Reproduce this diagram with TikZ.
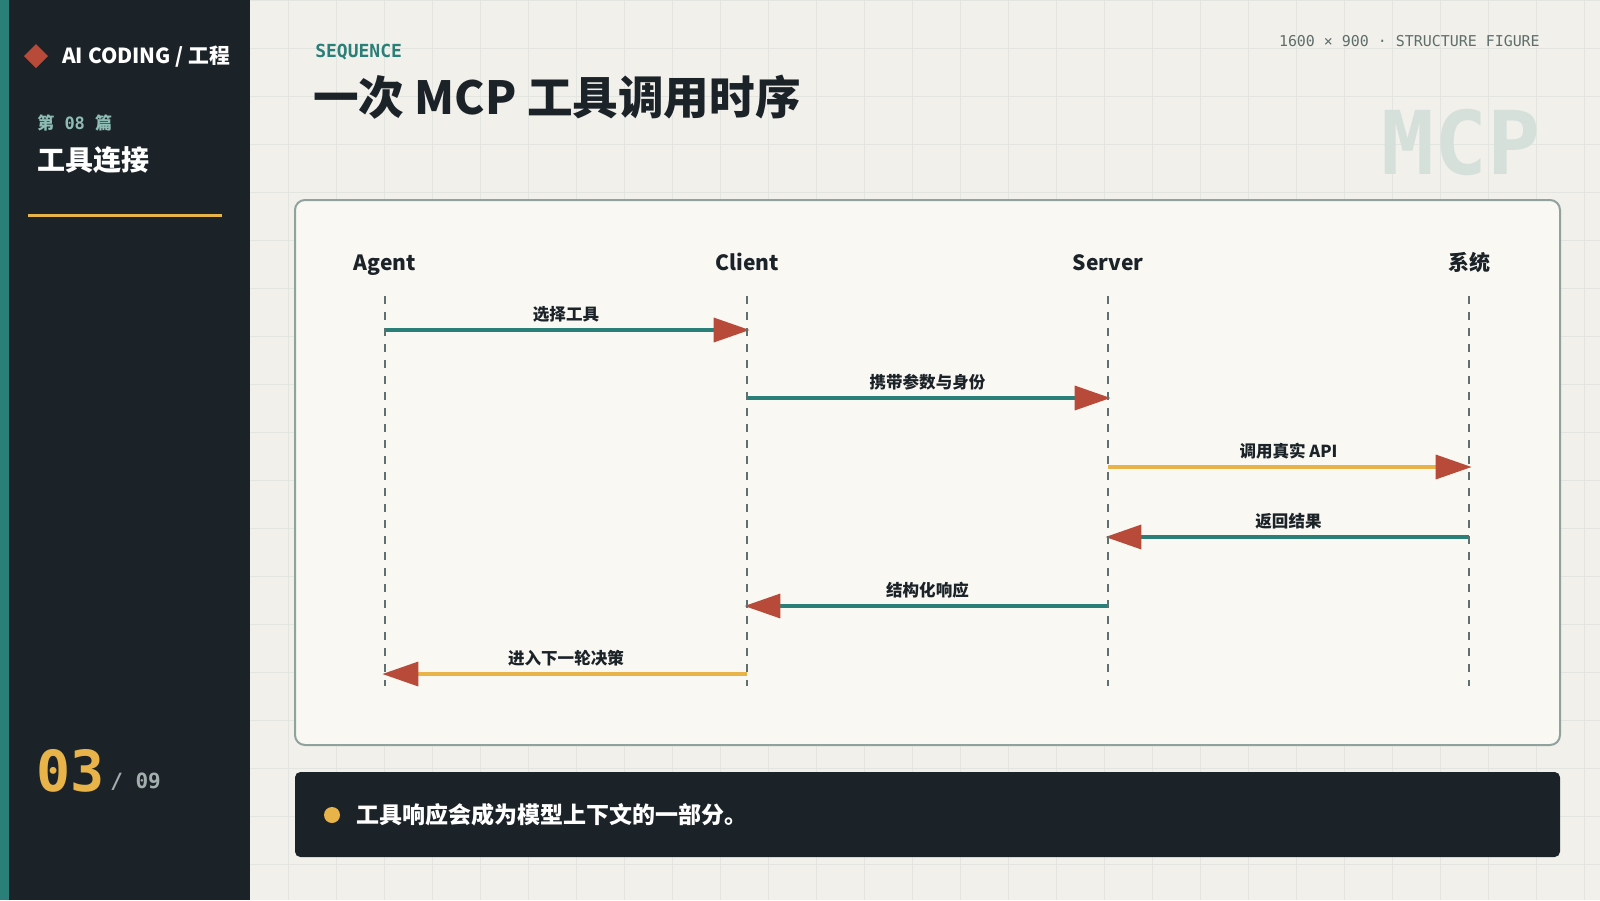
\documentclass[tikz,border=0pt]{standalone}
\usepackage{fontspec}
\setmainfont{Noto Sans CJK SC}
\setmonofont{DejaVu Sans Mono}
\newfontfamily\cjkfont{Noto Sans CJK SC}
\usetikzlibrary{arrows.meta}

\definecolor{paper}{HTML}{F1F0EB}
\definecolor{gridline}{HTML}{E2E5E0}
\definecolor{ink}{HTML}{1B2228}
\definecolor{seqteal}{HTML}{2A7F78}
\definecolor{seqyellow}{HTML}{E8B44A}
\definecolor{seqred}{HTML}{B84A3A}
\definecolor{cardfill}{HTML}{F9F8F3}
\definecolor{cardline}{HTML}{8FA29E}
\definecolor{lifegray}{HTML}{5F7070}
\definecolor{mutedgray}{HTML}{5E6E6A}
\definecolor{watermark}{HTML}{D5E0DB}
\definecolor{sideteal}{HTML}{8DBDB5}
\definecolor{pagegray}{HTML}{A3AFAE}

\begin{document}
\begin{tikzpicture}[x=0.75pt,y=-0.75pt,
  head/.style={inner sep=0pt,anchor=base,text=ink,font=\bfseries\fontsize{15.75}{18}\selectfont},
  lbl/.style={inner sep=0pt,text=ink,midway,yshift=12pt,font=\bfseries\fontsize{12.4}{14}\selectfont},
  lifeline/.style={lifegray,line width=1.5pt,dash pattern=on 6pt off 6pt},
  msg/.style={line width=2.6pt,-{Triangle[length=27pt,width=18pt,fill=seqred,color=seqred]},shorten >=-2pt}]
  \useasboundingbox (0,0) rectangle (1600,900);
  \fill[paper] (0,0) rectangle (1600,900);
  \foreach \gx in {0,48,...,1600} \draw[gridline,line width=0.75pt] (\gx,0)--(\gx,900);
  \foreach \gy in {0,48,...,900} \draw[gridline,line width=0.75pt] (0,\gy)--(1600,\gy);

  % sidebar
  \fill[ink] (0,0) rectangle (250,900);
  \fill[seqteal] (0,0) rectangle (9,900);
  \fill[seqred] (36,44)--(48,56)--(36,68)--(24,56)--cycle;
  \node[anchor=west,inner sep=0pt,text=white,font=\bfseries\fontsize{15.6}{18}\selectfont] (brand) at (62,57) {AI CODING / 工程};
  \node[anchor=west,inner sep=0pt,text=sideteal,font=\ttfamily\bfseries\fontsize{12.75}{15}\selectfont] (issue) at (37,123) {{\cjkfont 第}\ 08\ {\cjkfont 篇}};
  \node[anchor=west,inner sep=0pt,text=white,font=\bfseries\fontsize{21}{24}\selectfont] (topic) at (37,160) {工具连接};
  \draw[seqyellow,line width=2.25pt] (28,215)--(222,215);
  \node[anchor=base west,inner sep=0pt,text=seqyellow,font=\ttfamily\bfseries\fontsize{42.5}{48}\selectfont] (page) at (36,791) {03};
  \node[anchor=base west,inner sep=0pt,text=pagegray,font=\ttfamily\bfseries\fontsize{15.75}{18}\selectfont] (total) at (110,788) {/ 09};

  % header
  \node[anchor=west,inner sep=0pt,text=seqteal,font=\ttfamily\bfseries\fontsize{13.5}{16}\selectfont] (kicker) at (315,52) {SEQUENCE};
  \node[anchor=west,inner sep=0pt,text=ink,font=\bfseries\fontsize{34.2}{38}\selectfont] (title) at (313,97) {一次 MCP 工具调用时序};
  \node[anchor=east,inner sep=0pt,text=mutedgray,font=\ttfamily\fontsize{11.2}{13}\selectfont] (meta) at (1540,41) {1600 × 900 · STRUCTURE FIGURE};
  \node[anchor=east,inner sep=0pt,text=watermark,font=\ttfamily\bfseries\fontsize{66}{70}\selectfont] (mark) at (1541,142) {MCP};

  % card
  \draw[cardline,fill=cardfill,line width=1.5pt,rounded corners=7.5pt] (295,200) rectangle (1560,745);

  \node[head] (agent) at (385,270) {Agent};
  \node[head] (client) at (747,270) {Client};
  \node[head] (server) at (1108,270) {Server};
  \node[head] (system) at (1469,270) {系统};

  \coordinate (agentTop) at (385,296);  \coordinate (agentBot) at (385,686);
  \coordinate (clientTop) at (747,296); \coordinate (clientBot) at (747,686);
  \coordinate (serverTop) at (1108,296); \coordinate (serverBot) at (1108,686);
  \coordinate (systemTop) at (1469,296); \coordinate (systemBot) at (1469,686);

  % messages
  \draw[msg,seqteal] (agentTop |- 0,330) -- node[lbl]{选择工具} (clientTop |- 0,330);
  \draw[msg,seqteal] (clientTop |- 0,398) -- node[lbl]{携带参数与身份} (serverTop |- 0,398);
  \draw[msg,seqyellow] (serverTop |- 0,467) -- node[lbl]{调用真实 API} (systemTop |- 0,467);
  \draw[msg,seqteal] (systemTop |- 0,537) -- node[lbl]{返回结果} (serverTop |- 0,537);
  \draw[msg,seqteal] (serverTop |- 0,606) -- node[lbl]{结构化响应} (clientTop |- 0,606);
  \draw[msg,seqyellow] (clientTop |- 0,674) -- node[lbl]{进入下一轮决策} (agentTop |- 0,674);

  \draw[lifeline] (agentTop)--(agentBot);
  \draw[lifeline] (clientTop)--(clientBot);
  \draw[lifeline] (serverTop)--(serverBot);
  \draw[lifeline] (systemTop)--(systemBot);

  % note bar
  \fill[ink,rounded corners=4pt] (295,772) rectangle (1560,857);
  \fill[seqyellow] (332,815) circle (6pt);
  \node[anchor=west,inner sep=0pt,text=white,font=\bfseries\fontsize{17.25}{20}\selectfont] (note) at (356,815) {工具响应会成为模型上下文的一部分。};
\end{tikzpicture}
\end{document}
